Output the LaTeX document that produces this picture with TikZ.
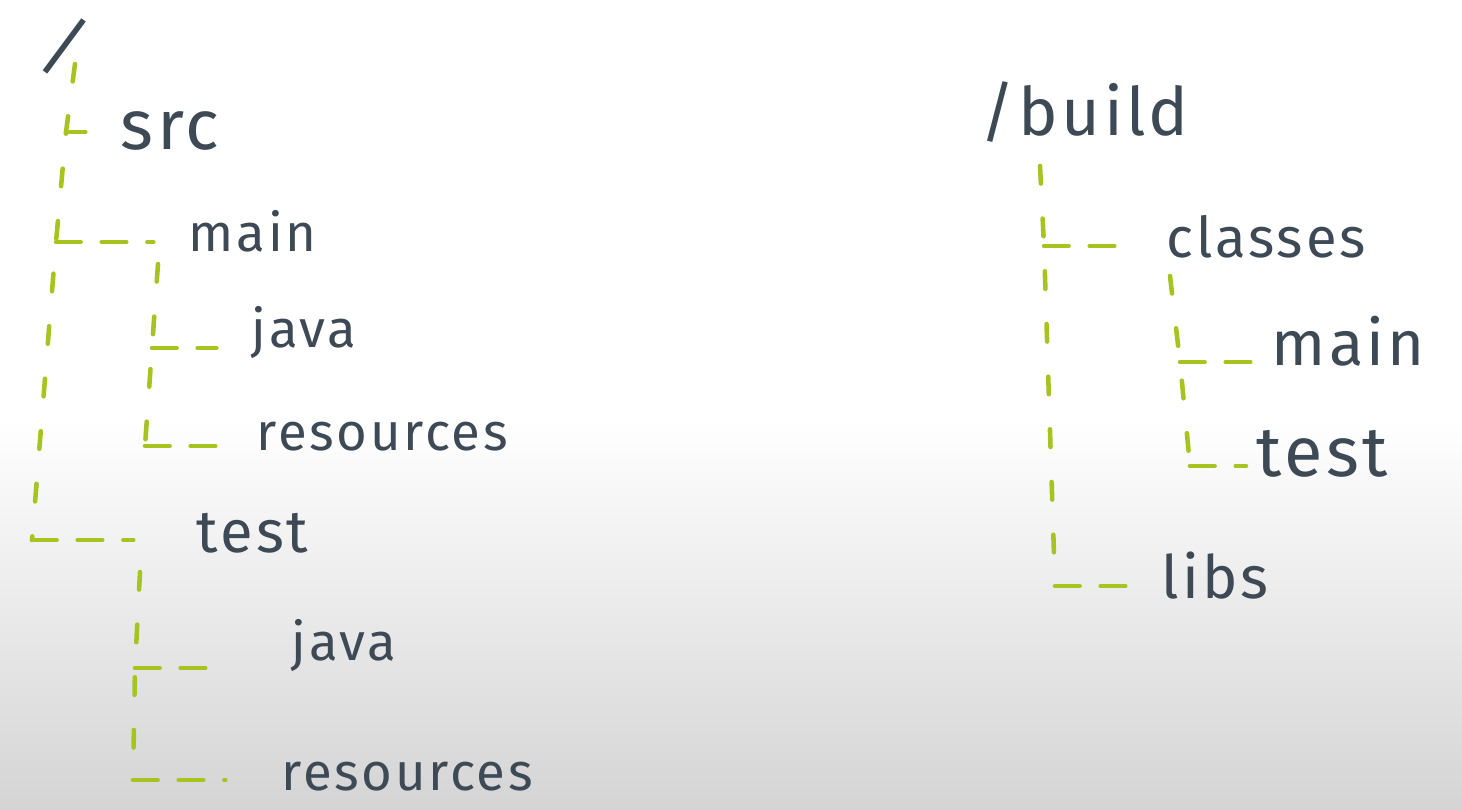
\documentclass[tikz,border=0pt]{standalone}
\usepackage{fontspec}
\setmainfont{Fira Sans}
\newfontfamily\handfont{Fira Sans}[LetterSpace=5]
\definecolor{inkgray}{RGB}{61,74,86}
\definecolor{treegreen}{RGB}{166,196,32}
\definecolor{fadegray}{RGB}{212,212,212}

\begin{document}
\begin{tikzpicture}[
  x=0.02cm, y=-0.02cm,
  dir/.style={anchor=base west, inner sep=6pt, text=inkgray, font=\handfont\fontsize{30}{34}\selectfont},
  big/.style={font=\handfont\fontsize{#1}{#1}\selectfont},
  twig/.style={draw=treegreen, line width=2.6pt, line cap=round, dash pattern=on 10pt off 20pt},
  branch/.style={twig, dash pattern=on 14pt off 12pt, shorten >=14pt}
]
  % background, white fading to grey
  \useasboundingbox (0,0) rectangle (1462,810);
  \fill[white] (0,0) rectangle (1462,810);
  \shade[top color=white, bottom color=fadegray] (0,420) rectangle (1462,810);

  % source tree
  \node[dir, big=40, rotate=-22] (root) at (28,58) {/};
  \node[dir, big=40] (src) at (110,150) {src};
  \node[dir] (main) at (178,252) {main};
  \node[dir] (java) at (241,348) {java};
  \node[dir] (res) at (246,450) {resources};
  \node[dir, big=34] (test) at (186,552) {test};
  \node[dir] (javaT) at (281,660) {java};
  \node[dir] (resT) at (271,790) {resources};

  \coordinate (s-top) at (75,64);
  \coordinate (b-src) at (66,132);
  \coordinate (b-main) at (56,242);
  \coordinate (b-test) at (32,540);
  \draw[twig] (s-top) -- (b-src) -- (b-main) -- (b-test);
  \draw[branch] (b-src) -- (src.west |- b-src);
  \draw[branch] (b-main) -- (main.west |- b-main);
  \draw[branch, shorten >=30pt] (b-test) -- (test.west |- b-test);

  \coordinate (m-top) at (158,264);
  \coordinate (b-java) at (152,348);
  \coordinate (b-res) at (145,446);
  \draw[twig] (m-top) -- (b-java) -- (b-res);
  \draw[branch] (b-java) -- (java.west |- b-java);
  \draw[branch] (b-res) -- (res.west |- b-res);

  \coordinate (t-top) at (140,572);
  \coordinate (b-javaT) at (135,668);
  \coordinate (b-resT) at (133,780);
  \draw[twig] (t-top) -- (b-javaT) -- (b-resT);
  \draw[branch, shorten >=32pt] (b-javaT) -- (javaT.west |- b-javaT);
  \draw[branch, shorten >=26pt] (b-resT) -- (resT.west |- b-resT);

  % build tree
  \node[dir, big=38] (build) at (970,136) {/build};
  \node[dir, big=32] (classes) at (1156,258) {classes};
  \node[dir, big=36] (mainB) at (1261,365) {main};
  \node[dir, big=40] (testB) at (1246,476) {test};
  \node[dir, big=34] (libs) at (1151,598) {libs};

  \coordinate (k-top) at (1040,166);
  \coordinate (b-classes) at (1044,246);
  \coordinate (b-libs) at (1055,586);
  \draw[twig] (k-top) -- (b-classes) -- (b-libs);
  \draw[branch] (b-classes) -- (classes.west |- b-classes);
  \draw[branch] (b-libs) -- (libs.west |- b-libs);

  \coordinate (c-top) at (1170,276);
  \coordinate (b-mainB) at (1180,362);
  \coordinate (b-testB) at (1190,466);
  \draw[twig] (c-top) -- (b-mainB) -- (b-testB);
  \draw[branch, shorten >=6pt] (b-mainB) -- (mainB.west |- b-mainB);
  \draw[branch, shorten >=0pt] (b-testB) -- (testB.west |- b-testB);
\end{tikzpicture}
\end{document}
